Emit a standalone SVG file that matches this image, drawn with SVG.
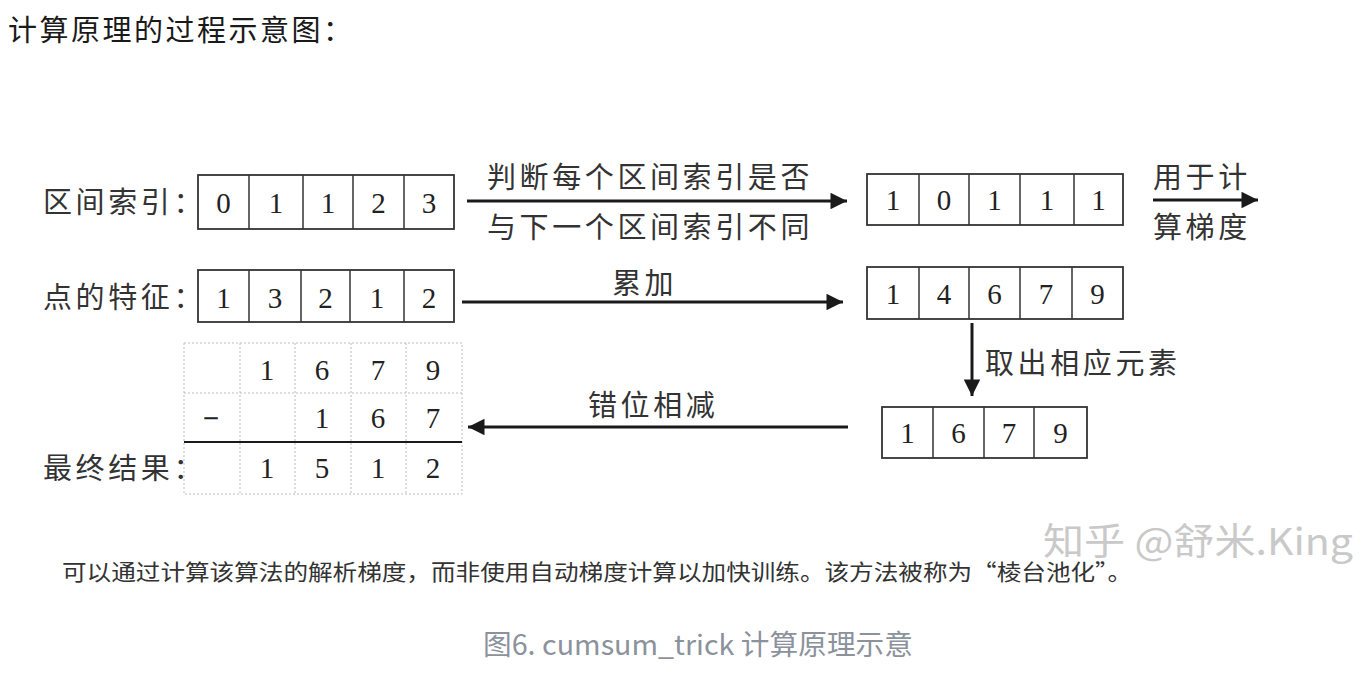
<svg xmlns="http://www.w3.org/2000/svg" width="1369" height="673" viewBox="0 0 1369 673">
<defs>
<style>
.lbl{font-family:"Noto Sans CJK SC","Noto Sans",sans-serif;font-size:29px;fill:#333;letter-spacing:3.6px}
.num{font-family:"Liberation Serif",serif;font-size:29px;fill:#222;text-anchor:middle}
.box{fill:#fff;stroke:#333;stroke-width:1.8}
.div{stroke:#333;stroke-width:1.5}
.dot{stroke:#bdbdbd;stroke-width:1;stroke-dasharray:2 2;fill:none}
.arr{stroke:#1a1a1a;stroke-width:3;fill:none}
</style>
<marker id="ah" viewBox="0 0 10 10" refX="10" refY="5" markerWidth="6.5" markerHeight="5.5" orient="auto" markerUnits="strokeWidth">
<path d="M0,0 L10,5 L0,10 z" fill="#1a1a1a"/>
</marker>
</defs>
<rect width="1369" height="673" fill="#fff"/>

<text x="8" y="41" style="font-family:'Noto Sans CJK SC','Noto Sans',sans-serif;font-size:29px;fill:#1a1a1a;letter-spacing:2.5px">计算原理的过程示意图：</text>

<g id="labels">
<text class="lbl" x="43" y="213">区间索引：</text>
<text class="lbl" x="43" y="308">点的特征：</text>
<text class="lbl" x="43" y="479">最终结果：</text>
</g>

<g id="node-index">
<rect class="box" x="198" y="175" width="256" height="54"/>
<line class="div" x1="249" y1="175" x2="249" y2="229"/>
<line class="div" x1="303" y1="175" x2="303" y2="229"/>
<line class="div" x1="353" y1="175" x2="353" y2="229"/>
<line class="div" x1="404" y1="175" x2="404" y2="229"/>
<text class="num" x="223.5" y="213">0</text>
<text class="num" x="276" y="213">1</text>
<text class="num" x="328" y="213">1</text>
<text class="num" x="378.5" y="213">2</text>
<text class="num" x="429" y="213">3</text>
</g>

<g id="node-feature">
<rect class="box" x="198" y="270" width="256" height="52"/>
<line class="div" x1="249" y1="270" x2="249" y2="322"/>
<line class="div" x1="301" y1="270" x2="301" y2="322"/>
<line class="div" x1="350" y1="270" x2="350" y2="322"/>
<line class="div" x1="404" y1="270" x2="404" y2="322"/>
<text class="num" x="223.5" y="308">1</text>
<text class="num" x="275" y="308">3</text>
<text class="num" x="325.5" y="308">2</text>
<text class="num" x="377" y="308">1</text>
<text class="num" x="429" y="308">2</text>
</g>

<g id="node-diff">
<rect class="box" x="867" y="174" width="256" height="51"/>
<line class="div" x1="919" y1="174" x2="919" y2="225"/>
<line class="div" x1="969" y1="174" x2="969" y2="225"/>
<line class="div" x1="1020" y1="174" x2="1020" y2="225"/>
<line class="div" x1="1074" y1="174" x2="1074" y2="225"/>
<text class="num" x="893" y="210">1</text>
<text class="num" x="944" y="210">0</text>
<text class="num" x="994.5" y="210">1</text>
<text class="num" x="1047" y="210">1</text>
<text class="num" x="1098.5" y="210">1</text>
</g>

<g id="node-cumsum">
<rect class="box" x="867" y="267" width="256" height="52"/>
<line class="div" x1="919" y1="267" x2="919" y2="319"/>
<line class="div" x1="969" y1="267" x2="969" y2="319"/>
<line class="div" x1="1020" y1="267" x2="1020" y2="319"/>
<line class="div" x1="1072" y1="267" x2="1072" y2="319"/>
<text class="num" x="893" y="304">1</text>
<text class="num" x="944" y="304">4</text>
<text class="num" x="994.5" y="304">6</text>
<text class="num" x="1046" y="304">7</text>
<text class="num" x="1097.5" y="304">9</text>
</g>

<g id="node-selected">
<rect class="box" x="882" y="407" width="205" height="51"/>
<line class="div" x1="933" y1="407" x2="933" y2="458"/>
<line class="div" x1="984" y1="407" x2="984" y2="458"/>
<line class="div" x1="1034" y1="407" x2="1034" y2="458"/>
<text class="num" x="907.5" y="443">1</text>
<text class="num" x="958.5" y="443">6</text>
<text class="num" x="1009" y="443">7</text>
<text class="num" x="1060.5" y="443">9</text>
</g>

<g id="node-result">
<rect class="dot" x="184" y="343" width="278" height="151"/>
<line class="dot" x1="240" y1="343" x2="240" y2="494"/>
<line class="dot" x1="295" y1="343" x2="295" y2="494"/>
<line class="dot" x1="351" y1="343" x2="351" y2="494"/>
<line class="dot" x1="406" y1="343" x2="406" y2="494"/>
<line class="dot" x1="184" y1="393" x2="462" y2="393"/>
<line x1="184" y1="442" x2="462" y2="442" stroke="#1a1a1a" stroke-width="2"/>
<text class="num" x="267" y="380">1</text>
<text class="num" x="322" y="380">6</text>
<text class="num" x="378" y="380">7</text>
<text class="num" x="433" y="380">9</text>
<text class="num" x="211" y="428" style="font-weight:bold">−</text>
<text class="num" x="322" y="428">1</text>
<text class="num" x="378" y="428">6</text>
<text class="num" x="433" y="428">7</text>
<text class="num" x="267" y="478">1</text>
<text class="num" x="322" y="478">5</text>
<text class="num" x="378" y="478">1</text>
<text class="num" x="433" y="478">2</text>
</g>

<g id="connectors">
<line class="arr" x1="467" y1="201" x2="847" y2="201" marker-end="url(#ah)"/>
<line class="arr" x1="462" y1="302" x2="843" y2="302" marker-end="url(#ah)"/>
<line class="arr" x1="972" y1="323" x2="972" y2="396" marker-end="url(#ah)"/>
<line class="arr" x1="848" y1="427" x2="468" y2="427" marker-end="url(#ah)"/>
<line class="arr" x1="1153" y1="200" x2="1258" y2="200" marker-end="url(#ah)"/>
<text class="lbl" x="487" y="188">判断每个区间索引是否</text>
<text class="lbl" x="487" y="238">与下一个区间索引不同</text>
<text class="lbl" x="612" y="294">累加</text>
<text class="lbl" x="985" y="374">取出相应元素</text>
<text class="lbl" x="588" y="416">错位相减</text>
<text class="lbl" x="1153" y="188">用于计</text>
<text class="lbl" x="1153" y="238">算梯度</text>
</g>

<text x="1043" y="555" style="font-family:'Noto Sans CJK SC','Noto Sans',sans-serif;font-size:37px;fill:#c9c9c9" textLength="310" lengthAdjust="spacingAndGlyphs">知乎 @舒米.King</text>
<text x="62" y="580" style="font-family:'Noto Sans CJK SC','Noto Sans',sans-serif;font-size:22px;fill:#333" textLength="1070" lengthAdjust="spacingAndGlyphs">可以通过计算该算法的解析梯度，而非使用自动梯度计算以加快训练。该方法被称为“棱台池化”。</text>
<text x="483" y="655" style="font-family:'Noto Sans CJK SC','Noto Sans',sans-serif;font-size:28px;fill:#8b929c" textLength="430" lengthAdjust="spacingAndGlyphs">图6. cumsum_trick 计算原理示意</text>
</svg>
